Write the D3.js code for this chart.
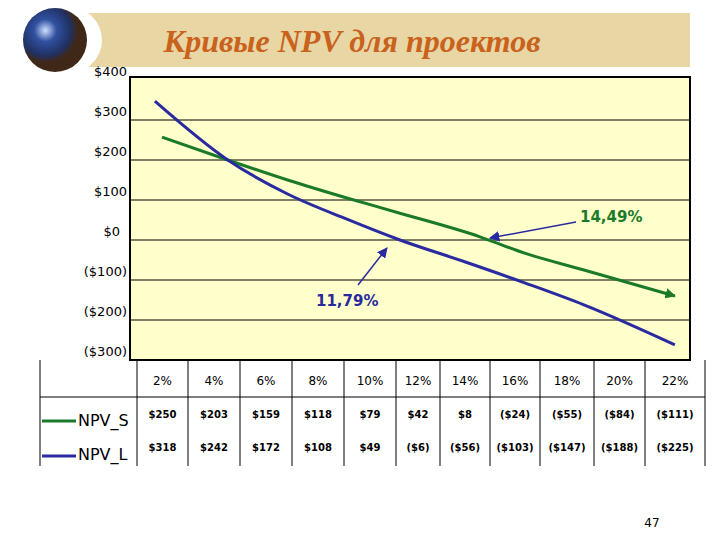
<!DOCTYPE html><html><head><meta charset="utf-8"><script src="https://d3js.org/d3.v7.min.js"></script>
<style>body{margin:0;background:#fff}</style></head><body><svg id="c" width="720" height="540"></svg><script>
const yTicks=[400,300,200,100,0,-100,-200,-300];
const rates=["2%","4%","6%","8%","10%","12%","14%","16%","18%","20%","22%"];
const npvS=["$250","$203","$159","$118","$79","$42","$8","($24)","($55)","($84)","($111)"];
const npvL=["$318","$242","$172","$108","$49","($6)","($56)","($103)","($147)","($188)","($225)"];
const curveRate=[3.52,5.98,8,10,11.79,14,16,18,21.07];
const curveS=[257,200,150,105,67,8,-33,-75,-140];
const curveL=[347,200,115,52,0,-55,-107,-162,-262];
const curveRateS=[3.76,5.98,8,10,11.79,14.49,16,18,21.07];
const colBounds=[137,188,240,292,344,396,440,490,540,594,645,705];

const svg=d3.select("#c");
const defs=svg.append("defs");
const g=defs.append("radialGradient").attr("id","gl").attr("cx","35%").attr("cy","35%");
g.append("stop").attr("offset","0").attr("stop-color","#cfe0ff");
g.append("stop").attr("offset","0.35").attr("stop-color","#3050a0");
g.append("stop").attr("offset","0.8").attr("stop-color","#203060");
g.append("stop").attr("offset","1").attr("stop-color","#402818");
defs.append("marker").attr("id","ah").attr("viewBox","0 0 10 10").attr("refX",9).attr("refY",5).attr("markerWidth",7).attr("markerHeight",7).attr("orient","auto")
 .append("path").attr("d","M0,0L10,5L0,10z").attr("fill","#2a2aa0");
defs.append("marker").attr("id","ahg").attr("viewBox","0 0 10 10").attr("refX",9).attr("refY",5).attr("markerWidth",3.5).attr("markerHeight",3.5).attr("orient","auto")
 .append("path").attr("d","M0,0L10,5L0,10z").attr("fill","#1a7a2a");

svg.append("rect").attr("x",88).attr("y",13).attr("width",602).attr("height",54).attr("fill","#e8d6a4");
svg.append("ellipse").attr("cx",64).attr("cy",40).attr("rx",38).attr("ry",35).attr("fill","#fff");
svg.append("circle").attr("cx",55).attr("cy",40).attr("r",32).attr("fill","url(#gl)");
svg.append("text").attr("x",352).attr("y",52).attr("text-anchor","middle").attr("font-family","Liberation Serif").attr("font-style","italic").attr("font-weight","bold").attr("font-size",32).attr("fill","#c8621c").text("Кривые NPV для проектов");

const L=130,R=690,T=80,B=360;
const x=d3.scaleLinear().domain([2.68,21.58]).range([L,R]);
const y=d3.scaleLinear().domain([-300,400]).range([B,T]);
svg.append("rect").attr("x",L).attr("y",T-3).attr("width",R-L).attr("height",B-T+3).attr("fill","#ffffcc").attr("stroke","#000").attr("stroke-width",2);
svg.selectAll(".gl").data(yTicks.slice(1)).join("line").attr("x1",L).attr("x2",R).attr("y1",d=>y(d)).attr("y2",d=>y(d)).attr("stroke","#000").attr("stroke-width",1);
svg.selectAll(".yl").data(yTicks).join("text").attr("x",d=>d===0?120:127).attr("y",d=>y(d)-4).attr("text-anchor","end")
 .attr("font-family","DejaVu Sans").attr("font-size",13).text(d=>d<0?"($"+(-d)+")":"$"+d);

const line=d3.line().x(d=>x(d[0])).y(d=>y(d[1])).curve(d3.curveMonotoneX);
svg.append("path").attr("d",line(curveRateS.map((r,i)=>[r,curveS[i]]))).attr("fill","none").attr("stroke","#1a7a2a").attr("stroke-width",3).attr("marker-end","url(#ahg)");
svg.append("path").attr("d",line(curveRate.map((r,i)=>[r,curveL[i]]))).attr("fill","none").attr("stroke","#2a2aa0").attr("stroke-width",3);

svg.append("line").attr("x1",576).attr("y1",222).attr("x2",x(14.49)+10).attr("y2",y(0)-2).attr("stroke","#2a2aa0").attr("stroke-width",1.5).attr("marker-end","url(#ah)");
svg.append("text").attr("x",580).attr("y",222).attr("font-family","DejaVu Sans").attr("font-weight","bold").attr("font-size",15).attr("fill","#1a7a2a").text("14,49%");
svg.append("line").attr("x1",358).attr("y1",285).attr("x2",x(11.79)-13).attr("y2",y(0)+8).attr("stroke","#2a2aa0").attr("stroke-width",1.5).attr("marker-end","url(#ah)");
svg.append("text").attr("x",316).attr("y",306).attr("font-family","DejaVu Sans").attr("font-weight","bold").attr("font-size",15).attr("fill","#2a2aa0").text("11,79%");

const tT=360,tH=397,tB=466,tL=40;
const tg=svg.append("g").attr("stroke","#000").attr("stroke-width",1);
tg.append("line").attr("x1",tL).attr("x2",705).attr("y1",tH).attr("y2",tH);
tg.append("line").attr("x1",tL).attr("x2",tL).attr("y1",tT).attr("y2",tB);
colBounds.forEach(c=>tg.append("line").attr("x1",c).attr("x2",c).attr("y1",tT).attr("y2",tB));
const cx=i=>(colBounds[i]+colBounds[i+1])/2;
svg.selectAll(".hd").data(rates).join("text").attr("x",(d,i)=>cx(i)).attr("y",385).attr("text-anchor","middle").attr("font-family","DejaVu Sans").attr("font-size",12).text(d=>d);
svg.selectAll(".rs").data(npvS).join("text").attr("x",(d,i)=>cx(i)).attr("y",418).attr("text-anchor","middle").attr("font-family","DejaVu Sans").attr("font-weight","bold").attr("font-size",10).text(d=>d);
svg.selectAll(".rl").data(npvL).join("text").attr("x",(d,i)=>cx(i)).attr("y",451).attr("text-anchor","middle").attr("font-family","DejaVu Sans").attr("font-weight","bold").attr("font-size",10).text(d=>d);
svg.append("line").attr("x1",42).attr("x2",76).attr("y1",421).attr("y2",421).attr("stroke","#1a7a2a").attr("stroke-width",3);
svg.append("line").attr("x1",42).attr("x2",76).attr("y1",456).attr("y2",456).attr("stroke","#2a2aa0").attr("stroke-width",3);
svg.append("text").attr("x",78).attr("y",426).attr("font-family","DejaVu Sans").attr("font-size",16).text("NPV_S");
svg.append("text").attr("x",78).attr("y",460).attr("font-family","DejaVu Sans").attr("font-size",16).text("NPV_L");
svg.append("text").attr("x",652).attr("y",527).attr("text-anchor","middle").attr("font-family","DejaVu Sans").attr("font-size",12).text("47");
</script></body></html>
